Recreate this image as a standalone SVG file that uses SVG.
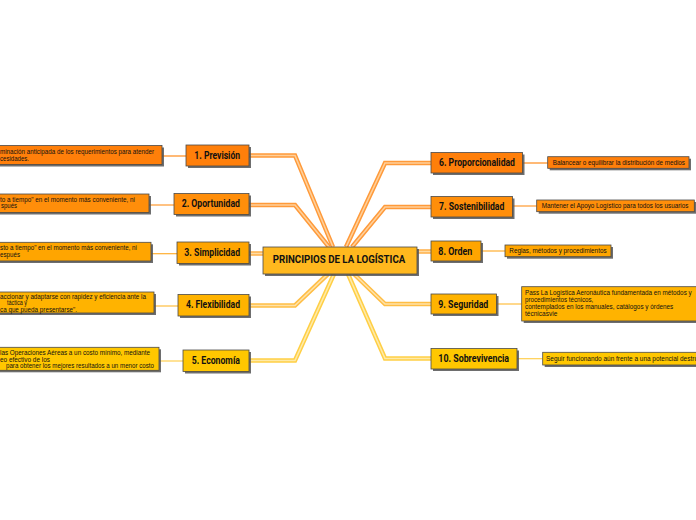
<svg xmlns="http://www.w3.org/2000/svg" width="696" height="520" viewBox="0 0 696 520">
<style>
.bx{stroke:#4a4a4a;stroke-width:0.8}
.sh{fill:#555;opacity:0.85}
.lbl{font-family:Roboto,"Liberation Sans",sans-serif;font-weight:bold;font-size:10px;fill:#111;text-anchor:middle}
.dt{font-family:"Liberation Sans",Arial,sans-serif;font-size:6.3px;fill:#111}
.c1{fill:#FF7F0A}.c2{fill:#FF8E0A}.c3{fill:#FFA500}.c4{fill:#FFB300}.c5{fill:#FFC700}.cc{fill:#FFB81E}
.o{fill:none;stroke-width:4.5}
.i{fill:none;stroke-width:1.6}
.t{fill:none;stroke-width:1.2}
</style>
<rect width="696" height="520" fill="#fff"/>
<g id="connectors">
<g stroke="#FF9A3A" class="o"><path d="M249,155.5 H295 L333,247"/><path d="M249,205 H295 L329,247"/><path d="M346,247 L385,163 H431"/><path d="M352,247 L385,207 H431"/></g>
<g stroke="#FFD09A" class="i"><path d="M249,155.5 H295 L333,247"/><path d="M249,205 H295 L329,247"/><path d="M346,247 L385,163 H431"/><path d="M352,247 L385,207 H431"/></g>
<g stroke="#FFAE45" class="o"><path d="M249,253.5 H263"/><path d="M417,251.5 H431"/></g>
<g stroke="#FFDCA5" class="i"><path d="M249,253.5 H263"/><path d="M417,251.5 H431"/></g>
<g stroke="#FFBE45" class="o"><path d="M249,305.5 H295 L328,274"/><path d="M354,274 L385,304 H431"/></g>
<g stroke="#FFE2A8" class="i"><path d="M249,305.5 H295 L328,274"/><path d="M354,274 L385,304 H431"/></g>
<g stroke="#FFCF45" class="o"><path d="M249,360.5 H295 L334,274"/><path d="M348,274 L385,358.5 H431"/></g>
<g stroke="#FFEAA8" class="i"><path d="M249,360.5 H295 L334,274"/><path d="M348,274 L385,358.5 H431"/></g>
<path class="t" stroke="#FF8A1A" d="M162,156 H186"/>
<path class="t" stroke="#FF9A30" d="M149,205 H174"/>
<path class="t" stroke="#FFAE30" d="M151,253.7 H177"/>
<path class="t" stroke="#FFBE40" d="M154,306 H178"/>
<path class="t" stroke="#FFCF50" d="M159,361 H183"/>
<path class="t" stroke="#FF8A1A" d="M522.5,163 H547.7"/>
<path class="t" stroke="#FF9A30" d="M512.5,206 H536.7"/>
<path class="t" stroke="#FFAE30" d="M481,251 H505"/>
<path class="t" stroke="#FFBE40" d="M496.5,304 H521.7"/>
<path class="t" stroke="#FFCF50" d="M517,358.7 H542.7"/>
</g>
<g id="center"><rect class="sh" x="265" y="249" width="154" height="27"/><rect class="bx cc" x="263" y="247" width="154" height="27"/><text class="lbl" x="339" y="263.3" textLength="132.6" lengthAdjust="spacingAndGlyphs">PRINCIPIOS DE LA LOGÍSTICA</text></g>
<g id="n1"><rect class="sh" x="188" y="147" width="63" height="21"/><rect class="bx c1" x="186" y="145" width="63" height="21"/><text class="lbl" x="217.2" y="158.6" textLength="45.7" lengthAdjust="spacingAndGlyphs">1. Previsión</text></g>
<g id="n2"><rect class="sh" x="176" y="195.5" width="75" height="21"/><rect class="bx c2" x="174" y="193.5" width="75" height="21"/><text class="lbl" x="210.8" y="207" textLength="58.3" lengthAdjust="spacingAndGlyphs">2. Oportunidad</text></g>
<g id="n3"><rect class="sh" x="179" y="244" width="72" height="21.5"/><rect class="bx c3" x="177" y="242" width="72" height="21.5"/><text class="lbl" x="212.2" y="255.8" textLength="55.7" lengthAdjust="spacingAndGlyphs">3. Simplicidad</text></g>
<g id="n4"><rect class="sh" x="180" y="296.5" width="71" height="21.5"/><rect class="bx c4" x="178" y="294.5" width="71" height="21.5"/><text class="lbl" x="213" y="308.3" textLength="54" lengthAdjust="spacingAndGlyphs">4. Flexibilidad</text></g>
<g id="n5"><rect class="sh" x="185" y="352" width="66" height="21.5"/><rect class="bx c5" x="183" y="350" width="66" height="21.5"/><text class="lbl" x="215.8" y="363.8" textLength="48.3" lengthAdjust="spacingAndGlyphs">5. Economía</text></g>
<g id="n6"><rect class="sh" x="433" y="154.5" width="91.5" height="20.5"/><rect class="bx c1" x="431" y="152.5" width="91.5" height="20.5"/><text class="lbl" x="477" y="166.2" textLength="76" lengthAdjust="spacingAndGlyphs">6. Proporcionalidad</text></g>
<g id="n7"><rect class="sh" x="433" y="198.5" width="81.5" height="20.5"/><rect class="bx c2" x="431" y="196.5" width="81.5" height="20.5"/><text class="lbl" x="471.7" y="210.2" textLength="65.3" lengthAdjust="spacingAndGlyphs">7. Sostenibilidad</text></g>
<g id="n8"><rect class="sh" x="433" y="243" width="50" height="20"/><rect class="bx c3" x="431" y="241" width="50" height="20"/><text class="lbl" x="455.3" y="254.5" textLength="34" lengthAdjust="spacingAndGlyphs">8. Orden</text></g>
<g id="n9"><rect class="sh" x="433" y="296" width="65.5" height="20"/><rect class="bx c4" x="431" y="294" width="65.5" height="20"/><text class="lbl" x="463.3" y="307.5" textLength="50" lengthAdjust="spacingAndGlyphs">9. Seguridad</text></g>
<g id="n10"><rect class="sh" x="433" y="350.5" width="86" height="20.5"/><rect class="bx c5" x="431" y="348.5" width="86" height="20.5"/><text class="lbl" x="473.7" y="362" textLength="70.7" lengthAdjust="spacingAndGlyphs">10. Sobrevivencia</text></g>
<g id="d1"><rect class="sh" x="-18" y="147.5" width="182" height="19"/><rect class="bx c1" x="-20" y="145.5" width="182" height="19"/><text class="dt" x="0" y="154.3" textLength="154" lengthAdjust="spacingAndGlyphs">minación anticipada de los requerimientos para atender</text><text class="dt" x="0" y="160.6" textLength="29" lengthAdjust="spacingAndGlyphs">cesidades.</text></g>
<g id="d2"><rect class="sh" x="-18" y="196" width="169" height="18.5"/><rect class="bx c2" x="-20" y="194" width="169" height="18.5"/><text class="dt" x="0" y="202.3" textLength="135" lengthAdjust="spacingAndGlyphs">to a tiempo" en el momento más conveniente, ni</text><text class="dt" x="1" y="208.4" textLength="16" lengthAdjust="spacingAndGlyphs">spués</text></g>
<g id="d3"><rect class="sh" x="-18" y="244.3" width="171" height="18.7"/><rect class="bx c3" x="-20" y="242.3" width="171" height="18.7"/><text class="dt" x="0" y="250.3" textLength="137" lengthAdjust="spacingAndGlyphs">sto a tiempo" en el momento más conveniente, ni</text><text class="dt" x="0" y="256.6" textLength="20" lengthAdjust="spacingAndGlyphs">espués</text></g>
<g id="d4"><rect class="sh" x="-18" y="294" width="174" height="21"/><rect class="bx c4" x="-20" y="292" width="174" height="21"/><text class="dt" x="0" y="299.3" textLength="146" lengthAdjust="spacingAndGlyphs">accionar y adaptarse con rapidez y eficiencia ante la</text><text class="dt" x="7" y="305.4" textLength="20" lengthAdjust="spacingAndGlyphs">táctica y</text><text class="dt" x="0" y="311.5" textLength="77" lengthAdjust="spacingAndGlyphs">ca que pueda presentarse".</text></g>
<g id="d5"><rect class="sh" x="-18" y="349.3" width="179" height="23"/><rect class="bx c5" x="-20" y="347.3" width="179" height="23"/><text class="dt" x="0" y="355.3" textLength="150" lengthAdjust="spacingAndGlyphs">las Operaciones Aéreas a un costo mínimo, mediante</text><text class="dt" x="0" y="361.6" textLength="50" lengthAdjust="spacingAndGlyphs">eo efectivo de los</text><text class="dt" x="6" y="368" textLength="148" lengthAdjust="spacingAndGlyphs">para obtener los mejores resultados a un menor costo</text></g>
<g id="d6"><rect class="sh" x="549.7" y="158.7" width="141.3" height="11.6"/><rect class="bx c1" x="547.7" y="156.7" width="141.3" height="11.6"/><text class="dt" x="552.7" y="164.7" textLength="132.3" lengthAdjust="spacingAndGlyphs">Balancear o equilibrar la distribución de medios</text></g>
<g id="d7"><rect class="sh" x="538.7" y="202" width="157.6" height="11.7"/><rect class="bx c2" x="536.7" y="200" width="157.6" height="11.7"/><text class="dt" x="541.7" y="208" textLength="146.7" lengthAdjust="spacingAndGlyphs">Mantener el Apoyo Logístico para todos los usuarios</text></g>
<g id="d8"><rect class="sh" x="507" y="247" width="106" height="11.7"/><rect class="bx c3" x="505" y="245" width="106" height="11.7"/><text class="dt" x="509.3" y="253" textLength="97.3" lengthAdjust="spacingAndGlyphs">Reglas, métodos y procedimientos</text></g>
<g id="d9"><rect class="sh" x="523.7" y="288.7" width="200" height="34.3"/><rect class="bx c4" x="521.7" y="286.7" width="200" height="34.3"/><text class="dt" x="525" y="294.6" textLength="166.7" lengthAdjust="spacingAndGlyphs">Pass La Logística Aeronáutica fundamentada en métodos y</text><text class="dt" x="525" y="301.6" textLength="68.3" lengthAdjust="spacingAndGlyphs">procedimientos técnicos,</text><text class="dt" x="525" y="309" textLength="148.3" lengthAdjust="spacingAndGlyphs">contemplados en los manuales, catálogos y órdenes</text><text class="dt" x="525" y="316" textLength="32.3" lengthAdjust="spacingAndGlyphs">técnicasvie</text></g>
<g id="d10"><rect class="sh" x="544.7" y="354.3" width="180" height="12.7"/><rect class="bx c5" x="542.7" y="352.3" width="180" height="12.7"/><text class="dt" x="546" y="360.6" textLength="152" lengthAdjust="spacingAndGlyphs">Seguir funcionando aún frente a una potencial destru</text></g>
</svg>
